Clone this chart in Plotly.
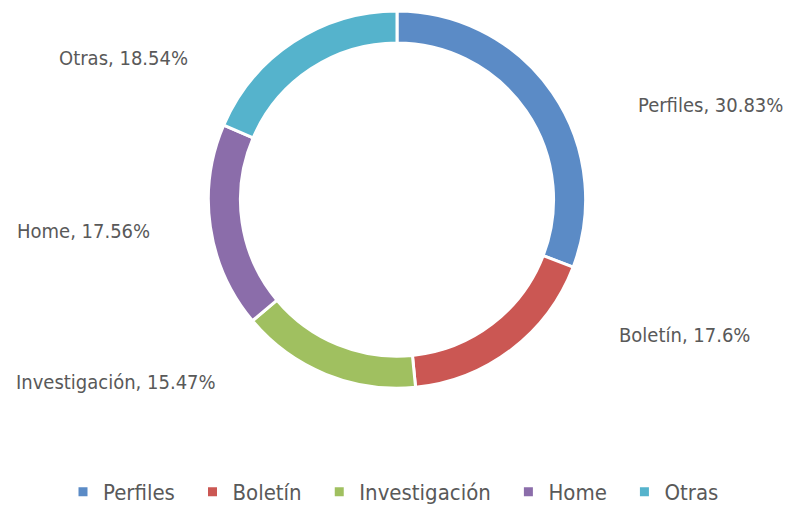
import plotly.graph_objects as go

categories = ["Perfiles", "Boletín", "Investigación", "Home", "Otras"]
values = [30.83, 17.6, 15.47, 17.56, 18.54]
value_labels = ["30.83%", "17.6%", "15.47%", "17.56%", "18.54%"]
colors = ["#5B8BC6", "#CB5753", "#A0C060", "#8B6DAA", "#55B3CC"]

W, H = 787, 513
FONT = "Liberation Sans Narrow, DejaVu Sans Condensed, Arial Narrow, sans-serif"
TEXT_COLOR = "#595959"

# label anchor points (pixels) and horizontal anchors - layout only
label_px = [(785, 105, "right"), (752, 336, "right"), (218, 383, "right"),
            (152, 231, "right"), (190, 58, "right")]

cx, cy, R = 397, 200, 189

# legend entries padded so spacing matches the reference
legend_names = [c + "\u00a0\u00a0" if i < len(categories) - 1 else c for i, c in enumerate(categories)]

fig = go.Figure(go.Pie(
    labels=legend_names,
    values=values,
    sort=False,
    direction="clockwise",
    rotation=0,
    hole=0.83,
    textinfo="none",
    marker=dict(colors=colors, line=dict(color="white", width=3)),
    domain=dict(x=[(cx - R) / W, (cx + R) / W], y=[1 - (cy + R) / H, 1 - (cy - R) / H]),
))

annotations = []
for cat, vl, (px, py, anc) in zip(categories, value_labels, label_px):
    annotations.append(dict(
        x=px / W, y=1 - py / H, xref="paper", yref="paper",
        xanchor=anc, yanchor="middle", showarrow=False,
        text=f"{cat}, {vl}",
        font=dict(family=FONT, size=20, color=TEXT_COLOR),
    ))

fig.update_layout(
    width=W, height=H,
    margin=dict(l=0, r=0, t=0, b=0),
    paper_bgcolor="white", plot_bgcolor="white",
    annotations=annotations,
    showlegend=True,
    legend=dict(orientation="h", x=0.5, xanchor="center", y=1 - 493 / H, yanchor="middle",
                font=dict(family=FONT, size=22, color=TEXT_COLOR), itemwidth=30),
)

fig.write_html("out.html", config={"displayModeBar": False},
               post_script="document.body.style.margin='0';")
